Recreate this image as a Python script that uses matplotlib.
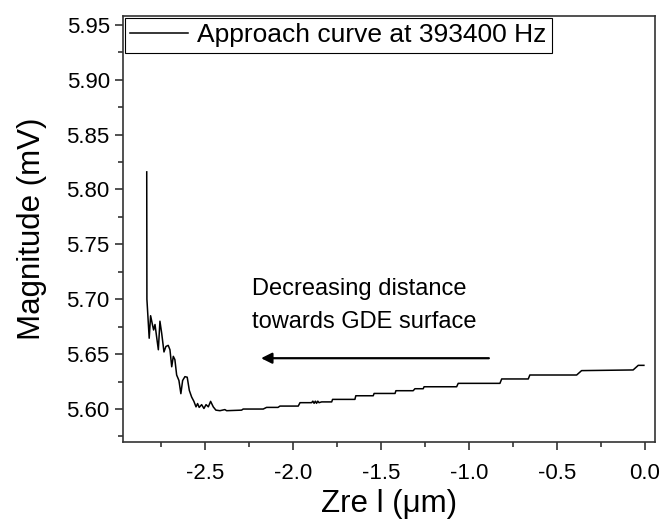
import matplotlib.pyplot as plt
import numpy as np
from matplotlib.ticker import MultipleLocator, FormatStrFormatter

plt.rcParams['font.family'] = ['Liberation Sans', 'DejaVu Sans']

# approach curve (z in um, magnitude in mV)
z = [-2.831, -2.830, -2.817, -2.809, -2.800, -2.792, -2.784, -2.775, -2.765,
     -2.756, -2.746, -2.733, -2.722, -2.709, -2.699, -2.689, -2.680, -2.671,
     -2.661, -2.648, -2.637, -2.627, -2.614, -2.601, -2.589, -2.576, -2.563,
     -2.551, -2.542, -2.533, -2.519, -2.506, -2.494, -2.481, -2.468, -2.453,
     -2.438, -2.415, -2.387, -2.377, -2.292, -2.283, -2.169, -2.150, -2.085,
     -2.074, -1.970, -1.960, -1.894, -1.887, -1.880, -1.873, -1.866, -1.859,
     -1.852, -1.837, -1.780, -1.775, -1.648, -1.643, -1.544, -1.539, -1.420,
     -1.415, -1.317, -1.307, -1.260, -1.255, -1.070, -1.061, -0.824, -0.814,
     -0.663, -0.654, -0.388, -0.360, -0.067, -0.038, -0.006]
mag = [5.816, 5.700, 5.6645, 5.685, 5.678, 5.672, 5.677, 5.666, 5.654,
       5.680, 5.669, 5.652, 5.657, 5.658, 5.654, 5.6385, 5.648, 5.645,
       5.631, 5.626, 5.614, 5.626, 5.6295, 5.629, 5.617, 5.611, 5.607,
       5.602, 5.605, 5.6015, 5.604, 5.6005, 5.604, 5.602, 5.607, 5.602,
       5.599, 5.5985, 5.5995, 5.5985, 5.599, 5.600, 5.600, 5.6015, 5.6015,
       5.6027, 5.6027, 5.6058, 5.6058, 5.6072, 5.6052, 5.6072, 5.6052, 5.6072,
       5.6058, 5.6065, 5.6065, 5.6088, 5.6088, 5.6121, 5.6121, 5.6142, 5.6142,
       5.6167, 5.6167, 5.6185, 5.6185, 5.6203, 5.6203, 5.6234, 5.6234, 5.6274,
       5.6274, 5.631, 5.631, 5.635, 5.6356, 5.6398, 5.6398]

arrow_tail = (-0.871, 5.6463)
arrow_head = (-2.197, 5.6463)
note_lines = ['Decreasing distance', 'towards GDE surface']
note_x = -2.233
note_y = [5.704, 5.674]

fig = plt.figure(figsize=(6.64, 5.19), dpi=100)
ax = fig.add_axes([0.1852, 0.1484, 0.8012, 0.8208])

ax.plot(z, mag, color='k', lw=1.1, label='Approach curve at 393400 Hz')

ax.annotate('', xy=arrow_head, xytext=arrow_tail,
            arrowprops=dict(arrowstyle='-|>', color='k', lw=1.6, mutation_scale=16))
for line, y in zip(note_lines, note_y):
    ax.text(note_x, y, line, fontsize=17, ha='left', va='baseline')

ax.set_xlim(-2.966, 0.057)
ax.set_ylim(5.570, 5.958)
ax.xaxis.set_major_locator(MultipleLocator(0.5))
ax.xaxis.set_minor_locator(MultipleLocator(0.25))
ax.yaxis.set_major_locator(MultipleLocator(0.05))
ax.yaxis.set_minor_locator(MultipleLocator(0.025))
ax.xaxis.set_major_formatter(FormatStrFormatter('%.1f'))
ax.yaxis.set_major_formatter(FormatStrFormatter('%.2f'))
ax.tick_params(which='major', direction='out', length=6, width=1.2, labelsize=16, color='#333333')
ax.tick_params(axis='x', which='major', pad=9)
ax.tick_params(which='minor', direction='out', length=3.5, width=1.2, color='#333333')
for s in ax.spines.values():
    s.set_linewidth(1.2)
    s.set_color('#333333')

ax.set_xlabel('Zre l (\u03bcm)', fontsize=22.5, labelpad=4)
ax.set_ylabel('Magnitude (mV)', fontsize=22.5, labelpad=14)

leg = ax.legend(loc='upper left', bbox_to_anchor=(0.003, 0.995), borderaxespad=0,
                fontsize=19, fancybox=False, edgecolor='k', framealpha=1,
                handlelength=2.2, handletextpad=0.35, borderpad=0.2)
leg.get_frame().set_linewidth(0.8)

fig.savefig('out.png', dpi=100)
